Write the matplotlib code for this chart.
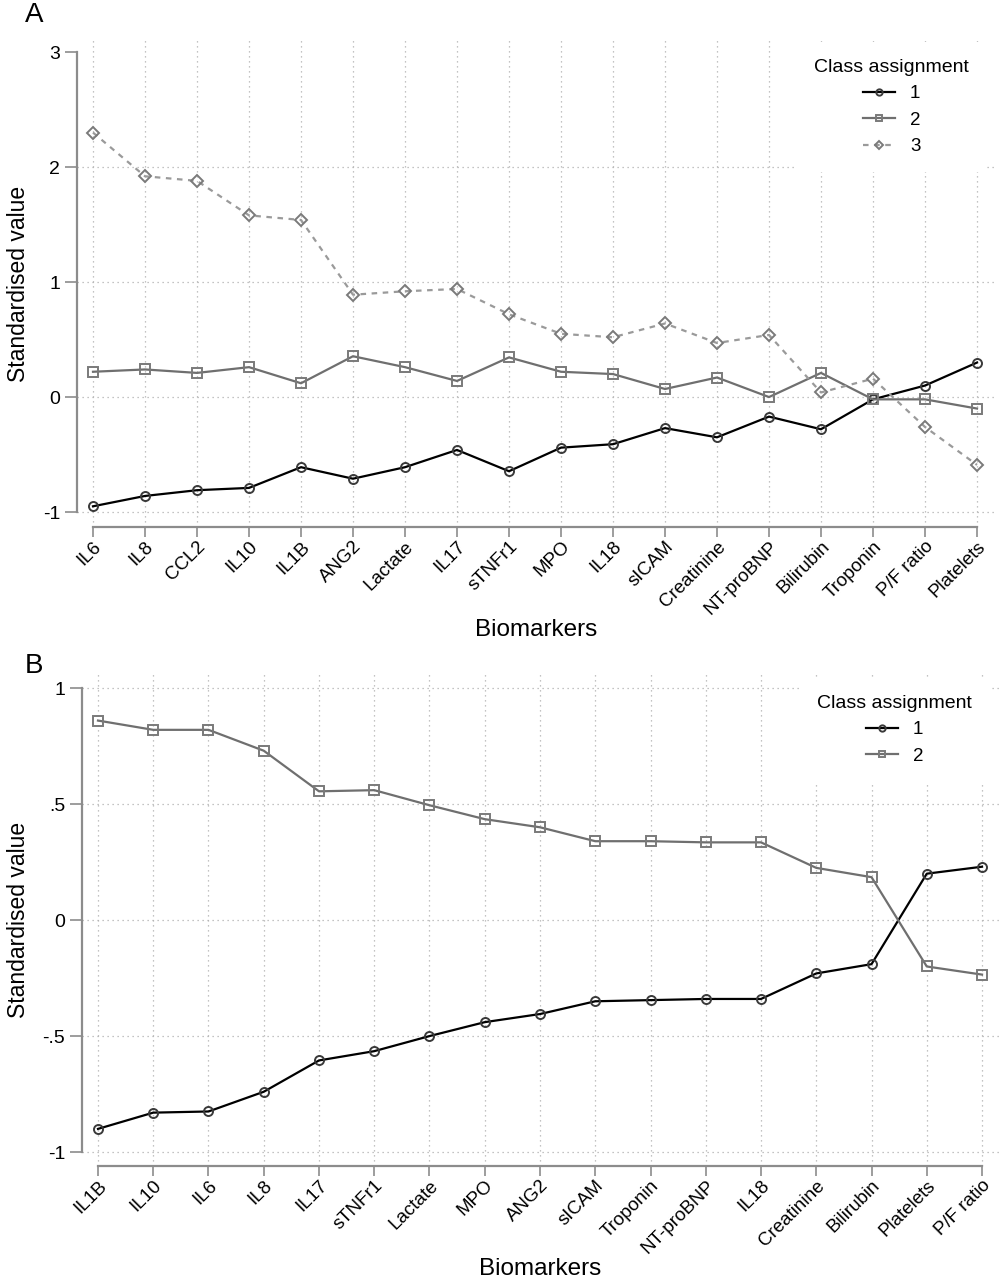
import matplotlib
matplotlib.use("Agg")
import matplotlib.pyplot as plt
import numpy as np

plt.rcParams['font.family'] = ['Liberation Sans', 'DejaVu Sans']

# Panel A: three-class solution
markers_a = ['IL6', 'IL8', 'CCL2', 'IL10', 'IL1B', 'ANG2', 'Lactate', 'IL17', 'sTNFr1',
             'MPO', 'IL18', 'sICAM', 'Creatinine', 'NT-proBNP', 'Bilirubin', 'Troponin',
             'P/F ratio', 'Platelets']
a_class1 = [-0.95, -0.86, -0.81, -0.79, -0.61, -0.71, -0.61, -0.46, -0.645,
            -0.44, -0.41, -0.27, -0.35, -0.17, -0.28, -0.02, 0.10, 0.30]
a_class2 = [0.22, 0.24, 0.21, 0.26, 0.12, 0.355, 0.26, 0.14, 0.345,
            0.22, 0.20, 0.07, 0.17, 0.0, 0.21, -0.02, -0.02, -0.10]
a_class3 = [2.30, 1.92, 1.88, 1.58, 1.54, 0.89, 0.92, 0.94, 0.72,
            0.55, 0.52, 0.64, 0.47, 0.54, 0.04, 0.16, -0.26, -0.59]
a_yticks = [-1, 0, 1, 2, 3]
a_yticklabels = ['-1', '0', '1', '2', '3']

# Panel B: two-class solution
markers_b = ['IL1B', 'IL10', 'IL6', 'IL8', 'IL17', 'sTNFr1', 'Lactate', 'MPO', 'ANG2',
             'sICAM', 'Troponin', 'NT-proBNP', 'IL18', 'Creatinine', 'Bilirubin',
             'Platelets', 'P/F ratio']
b_class1 = [-0.90, -0.83, -0.825, -0.74, -0.605, -0.565, -0.50, -0.44, -0.405,
            -0.35, -0.345, -0.34, -0.34, -0.23, -0.19, 0.20, 0.23]
b_class2 = [0.86, 0.82, 0.82, 0.73, 0.555, 0.56, 0.495, 0.435, 0.40,
            0.34, 0.34, 0.335, 0.335, 0.225, 0.185, -0.20, -0.235]
b_yticks = [-1, -0.5, 0, 0.5, 1]
b_yticklabels = ['-1', '-.5', '0', '.5', '1']

styles = {
    '1': dict(color='black', marker='o', mfc='none', mec='#3a3a3a', ms=6.5, lw=1.6, mew=1.4),
    '2': dict(color='#6f6f6f', marker='s', mfc='none', mec='#7a7a7a', ms=6.5, lw=1.6, mew=1.4),
    '3': dict(color='#9a9a9a', marker='D', mfc='none', mec='#7a7a7a', ms=5.8, lw=1.6, mew=1.4,
              ls=(0, (2.5, 2.5))),
}

W, H = 999, 1280
fig = plt.figure(figsize=(W / 100, H / 100), dpi=100)


def setup_axes(ax, labels, yticks, yticklabels, ylim, handles, skip_top_grid, leg_anchor):
    n = len(labels)
    x = np.arange(n)
    ax.set_ylim(*ylim)
    ax.set_yticks(yticks)
    ax.set_yticklabels(yticklabels, fontsize=14)
    ax.set_xticks(x)
    ax.set_xticklabels(labels, rotation=45, ha='right', va='top', rotation_mode='anchor',
                       fontsize=13.5)
    for s in ['top', 'right']:
        ax.spines[s].set_visible(False)
    for s in ['left', 'bottom']:
        ax.spines[s].set_color('#8c8c8c')
        ax.spines[s].set_linewidth(1.6)
    ax.spines['left'].set_bounds(yticks[0], yticks[-1])
    ax.spines['bottom'].set_bounds(0, n - 1)
    ax.tick_params(axis='y', length=9, width=1.2, color='#8c8c8c', pad=3)
    ax.tick_params(axis='x', length=7, width=1.2, color='#8c8c8c', pad=1)
    # dotted grid
    for xi in x:
        ax.axvline(xi, color='#b0b0b0', lw=0.9, ls=(0, (1, 3)), zorder=0)
    gy = yticks[:-1] if skip_top_grid else yticks
    for yi in gy:
        ax.axhline(yi, color='#b0b0b0', lw=0.9, ls=(0, (1, 3)), zorder=0)
    ax.set_ylabel('Standardised value', fontsize=16.5, labelpad=9)
    ax.set_xlabel('Biomarkers', fontsize=17.5, labelpad=1)
    leg = ax.legend(handles=handles, title='Class assignment', loc='upper right',
                    bbox_to_anchor=leg_anchor, bbox_transform=fig.transFigure,
                    frameon=True, fontsize=13.5, title_fontsize=14,
                    handlelength=1.7, handletextpad=0.8, markerscale=0.7,
                    labelspacing=0.5, borderpad=0.9, borderaxespad=0)
    leg.get_frame().set_facecolor('white')
    leg.get_frame().set_edgecolor('none')
    leg.get_frame().set_alpha(1.0)
    leg.get_frame().set_boxstyle('square', pad=0)
    leg._legend_box.align = 'center'
    return x


# Panel A
ax_a = fig.add_axes([77 / W, 1 - 527 / H, (995 - 77) / W, (527 - 40) / H])
na = len(markers_a)
ax_a.set_xlim(-16 / 52, na - 1 + 18 / 52)
xa = np.arange(na)
ha = []
for key, vals in [('1', a_class1), ('2', a_class2), ('3', a_class3)]:
    ln, = ax_a.plot(xa, vals, label=key, zorder=3, **styles[key])
    ha.append(ln)
setup_axes(ax_a, markers_a, a_yticks, a_yticklabels, (-1.13, 3.105), ha, True,
           (986 / W, 1 - 42 / H))

# Panel B
ax_b = fig.add_axes([82 / W, 1 - 1166 / H, (999 - 82) / W, (1166 - 673) / H])
nb = len(markers_b)
ax_b.set_xlim(-16 / 55.3, nb - 1 + 17 / 55.3)
xb = np.arange(nb)
hb = []
for key, vals in [('1', b_class1), ('2', b_class2)]:
    ln, = ax_b.plot(xb, vals, label=key, zorder=3, **styles[key])
    hb.append(ln)
setup_axes(ax_b, markers_b, b_yticks, b_yticklabels, (-1.06, 1.065), hb, False,
           (989 / W, 1 - 678 / H))

fig.text(25 / W, 1 - 15 / H, 'A', fontsize=20, va='center', ha='left')
fig.text(25 / W, 1 - 666 / H, 'B', fontsize=20, va='center', ha='left')

fig.savefig('out.png', dpi=100)
